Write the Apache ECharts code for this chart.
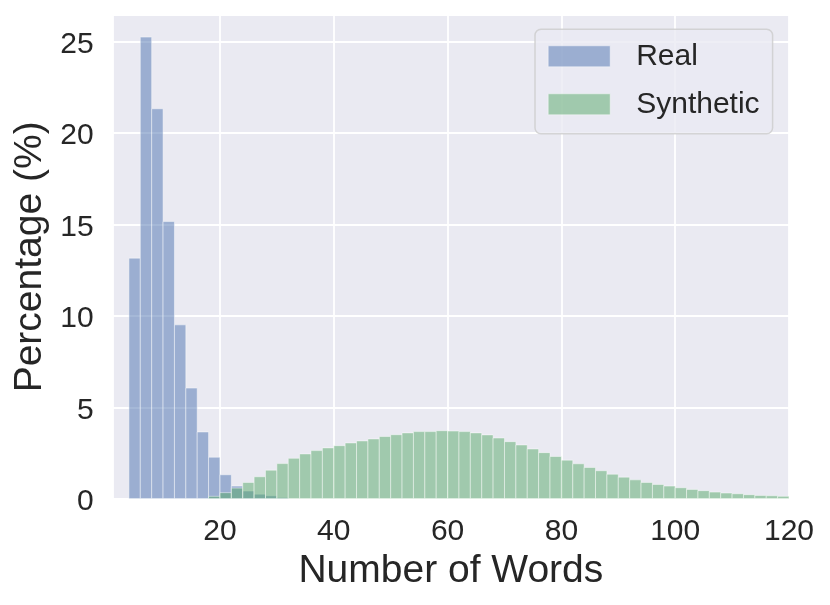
<!DOCTYPE html>
<html>
<head>
<meta charset="utf-8">
<script src="https://cdn.jsdelivr.net/npm/echarts@6/dist/echarts.min.js"></script>
<style>
html,body{margin:0;padding:0;background:#ffffff;}
#chart{width:830px;height:605px;}
</style>
</head>
<body>
<div id="chart"></div>
<script>
// Histogram bin left edges (Number of Words) and percentages
const realBinStarts = [4,6,8,10,12,14,16,18,20,22,24,26,28,30];
const realPct = [13.16,25.25,21.33,15.16,9.51,6.05,3.65,2.27,1.31,0.69,0.42,0.25,0.16,0.07];
const synthBinStarts = [18,20,22,24,26,28,30,32,34,36,38,40,42,44,46,48,50,52,54,56,58,60,62,64,66,68,70,72,74,76,78,80,82,84,86,88,90,92,94,96,98,100,102,104,106,108,110,112,114,116,118];
const synthPct = [0.13,0.33,0.58,0.89,1.2,1.56,1.92,2.21,2.45,2.63,2.78,2.9,3.05,3.16,3.27,3.4,3.5,3.6,3.67,3.67,3.72,3.7,3.67,3.6,3.49,3.32,3.12,2.94,2.72,2.52,2.31,2.11,1.91,1.71,1.53,1.34,1.18,1.03,0.89,0.78,0.69,0.6,0.51,0.44,0.36,0.31,0.27,0.22,0.18,0.16,0.13];
const binWidth = 2;
const seriesNames = ['Real', 'Synthetic'];
const xTitle = 'Number of Words';
const yTitle = 'Percentage (%)';

const FONT = 'Liberation Sans, Arial, Helvetica, sans-serif';
const TXT = '#262626';
const BLUE = 'rgba(76,114,176,0.5)';
const GREEN = 'rgba(85,168,104,0.5)';
const EDGE = 'rgba(255,255,255,0.45)';

function toItems(starts, vals) {
  return starts.map((s, i) => [s, s + binWidth, vals[i]]);
}
function makeRender(fill) {
  return function (params, api) {
    const p0 = api.coord([api.value(0), api.value(2)]);
    const p1 = api.coord([api.value(1), 0]);
    return {
      type: 'rect',
      shape: { x: p0[0], y: p0[1], width: p1[0] - p0[0], height: p1[1] - p0[1] },
      style: { fill: fill, stroke: EDGE, lineWidth: 1 }
    };
  };
}

const chart = echarts.init(document.getElementById('chart'), null, { renderer: 'canvas' });
chart.setOption({
  animation: false,
  textStyle: { fontFamily: FONT, color: TXT },
  grid: {
    left: 112.7, right: 41, top: 15, bottom: 106.3,
    show: true, backgroundColor: '#EAEAF2', borderWidth: 0
  },
  legend: {
    orient: 'vertical',
    left: 535, top: 29.3,
    padding: [10.5, 13, 13, 12.7],
    backgroundColor: 'rgba(234,234,242,0.8)',
    borderColor: 'rgba(204,204,204,0.8)',
    borderWidth: 1.5,
    borderRadius: 6,
    itemWidth: 62, itemHeight: 21, itemGap: 15,
    textStyle: { fontFamily: FONT, fontSize: 30, lineHeight: 30, color: TXT, padding: [3, 0, 0, 21] },
    data: [
      { name: seriesNames[0], icon: 'rect', itemStyle: { color: BLUE, borderColor: EDGE, borderWidth: 1 } },
      { name: seriesNames[1], icon: 'rect', itemStyle: { color: GREEN, borderColor: EDGE, borderWidth: 1 } }
    ]
  },
  xAxis: {
    type: 'value',
    min: 1.15, max: 120,
    name: xTitle,
    nameLocation: 'middle',
    nameGap: 52,
    nameTextStyle: { fontFamily: FONT, fontSize: 39, color: TXT },
    axisLine: { show: false },
    axisTick: { show: false },
    axisLabel: { fontFamily: FONT, fontSize: 30, color: TXT, margin: 18, showMinLabel: false },
    splitLine: { show: true, lineStyle: { color: '#ffffff', width: 1.8 } }
  },
  yAxis: {
    type: 'value',
    min: 0, max: 26.46, interval: 5,
    name: yTitle,
    nameLocation: 'middle',
    nameGap: 59,
    nameTextStyle: { fontFamily: FONT, fontSize: 39, color: TXT },
    axisLine: { show: false },
    axisTick: { show: false },
    axisLabel: {
      fontFamily: FONT, fontSize: 30, color: TXT, margin: 19, showMaxLabel: false,
      formatter: function (v) { return '{t|' + v + '}'; },
      rich: { t: { fontFamily: FONT, fontSize: 30, color: TXT, lineHeight: 30, padding: [6, 0, 0, 0] } }
    },
    splitLine: { show: true, lineStyle: { color: '#ffffff', width: 1.8 } }
  },
  series: [
    {
      name: seriesNames[0], type: 'custom',
      itemStyle: { color: BLUE },
      renderItem: makeRender(BLUE),
      encode: { x: [0, 1], y: 2 },
      data: toItems(realBinStarts, realPct),
      clip: true, z: 2
    },
    {
      name: seriesNames[1], type: 'custom',
      itemStyle: { color: GREEN },
      renderItem: makeRender(GREEN),
      encode: { x: [0, 1], y: 2 },
      data: toItems(synthBinStarts, synthPct),
      clip: true, z: 3
    }
  ]
});
</script>
</body>
</html>
